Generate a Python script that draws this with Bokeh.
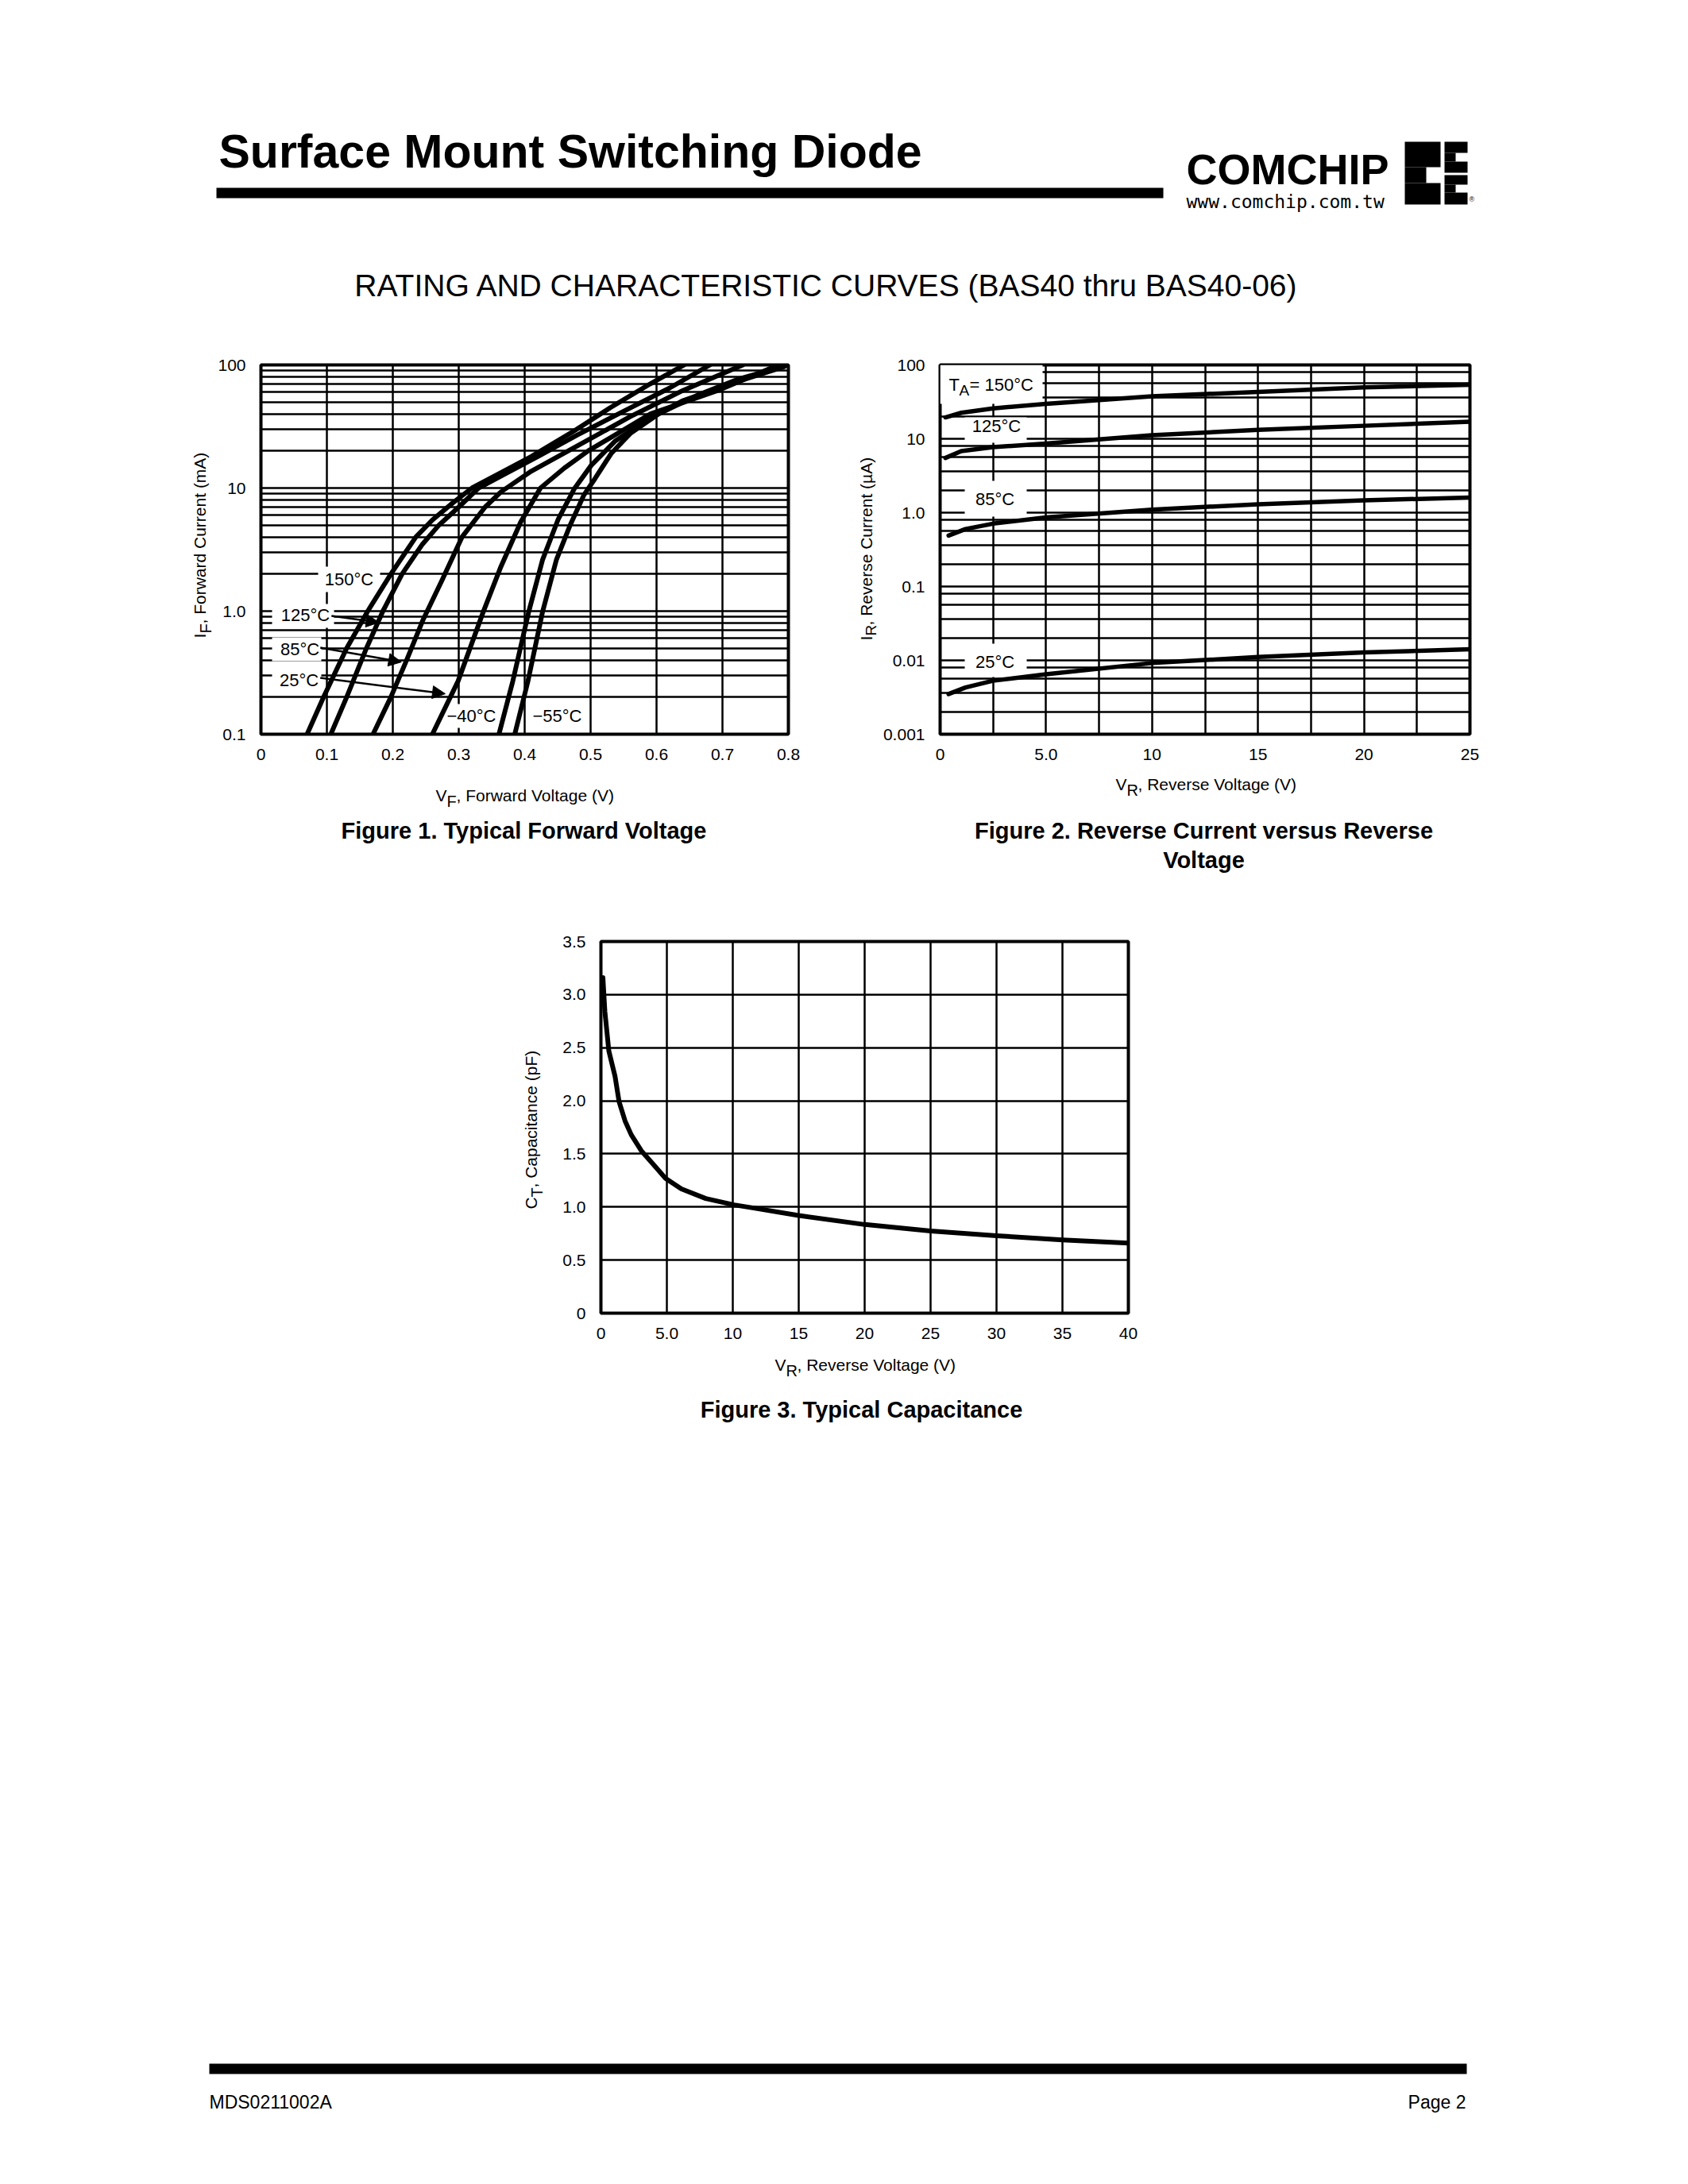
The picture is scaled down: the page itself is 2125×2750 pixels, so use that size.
import math
from bokeh.plotting import figure
from bokeh.layouts import column, row
from bokeh.models import Range1d, FixedTicker, Label, Arrow, NormalHead, Spacer
from bokeh.embed import file_html
from bokeh.resources import INLINE

SANS = "Liberation Sans"

# ---------------- data: Figure 1 (forward voltage V vs forward current mA) ----------------
vf_150 = [0.070, 0.095, 0.130, 0.162, 0.197, 0.235, 0.260, 0.290, 0.320, 0.360, 0.410, 0.470, 0.530, 0.590, 0.642]
if_150 = [0.1, 0.2, 0.5, 1.0, 2.0, 4.0, 5.5, 7.5, 10, 13, 18, 28, 45, 70, 100]
vf_125 = [0.106, 0.130, 0.160, 0.185, 0.214, 0.245, 0.270, 0.300, 0.330, 0.370, 0.420, 0.480, 0.550, 0.620, 0.681]
if_125 = [0.1, 0.2, 0.5, 1.0, 2.0, 3.5, 5.0, 7.0, 10, 13, 18, 27, 42, 65, 100]
vf_85 = [0.170, 0.197, 0.221, 0.245, 0.275, 0.305, 0.340, 0.364, 0.410, 0.480, 0.560, 0.640, 0.731]
if_85 = [0.1, 0.2, 0.4, 0.83, 1.8, 4.0, 7.0, 9.3, 13.7, 22, 38, 62, 100]
vf_25 = [0.260, 0.299, 0.337, 0.364, 0.394, 0.424, 0.460, 0.496, 0.591, 0.693, 0.785]
if_25 = [0.1, 0.27, 0.98, 2.3, 5.3, 10, 14.5, 20, 40, 62, 100]
vf_m40 = [0.361, 0.382, 0.406, 0.427, 0.451, 0.475, 0.501, 0.537, 0.585, 0.639, 0.722, 0.794]
if_m40 = [0.1, 0.27, 0.98, 2.6, 5.6, 9.8, 15.3, 24, 35.6, 51, 73, 97]
vf_m55 = [0.385, 0.405, 0.427, 0.448, 0.469, 0.490, 0.507, 0.531, 0.561, 0.603, 0.663, 0.722, 0.800]
if_m55 = [0.1, 0.27, 0.98, 2.6, 5.0, 8.8, 12, 19, 28, 40, 57, 76, 100]
f1_curve_labels = ["150°C", "125°C", "85°C", "25°C", "−40°C", "−55°C"]
# arrows from labels to curves (V, mA)
f1_arrow_x0 = [0.107, 0.090, 0.090]
f1_arrow_y0 = [0.915, 0.505, 0.287]
f1_arrow_x1 = [0.179, 0.213, 0.2795]
f1_arrow_y1 = [0.809, 0.386, 0.213]
f1_xticks = [0, 0.1, 0.2, 0.3, 0.4, 0.5, 0.6, 0.7, 0.8]
f1_xlabels = ["0", "0.1", "0.2", "0.3", "0.4", "0.5", "0.6", "0.7", "0.8"]
f1_yticks = [0.1, 1, 10, 100]
f1_ylabels = ["0.1", "1.0", "10", "100"]
f1_yminor = [m * d for d in (0.1, 1, 10) for m in range(2, 10)]

# ---------------- data: Figure 2 (reverse voltage V vs reverse current uA) ----------------
vr_150 = [0.25, 1.0, 2.5, 5.0, 10, 15, 20, 25]
ir_150 = [19.5, 22.5, 25.8, 29.7, 37.5, 43.2, 49.7, 54.0]
vr_125 = [0.25, 1.0, 2.5, 5.0, 10, 15, 20, 25]
ir_125 = [5.5, 6.8, 7.7, 8.6, 11.2, 13.2, 15.0, 17.0]
vr_85 = [0.4, 1.2, 2.5, 5.0, 10, 15, 20, 25]
ir_85 = [0.49, 0.60, 0.71, 0.86, 1.10, 1.30, 1.47, 1.60]
vr_25 = [0.4, 1.2, 2.5, 5.0, 10, 15, 20, 25]
ir_25 = [0.0035, 0.0043, 0.0053, 0.0065, 0.0092, 0.0111, 0.0128, 0.0141]
f2_curve_labels = ["125°C", "85°C", "25°C"]
f2_xticks = [0, 5, 10, 15, 20, 25]
f2_xlabels = ["0", "5.0", "10", "15", "20", "25"]
f2_xminor = [2.5, 7.5, 12.5, 17.5, 22.5]
f2_yticks = [0.001, 0.01, 0.1, 1, 10, 100]
f2_ylabels = ["0.001", "0.01", "0.1", "1.0", "10", "100"]
f2_yminor = [m * d for d in (0.001, 0.01, 0.1, 1, 10) for m in (2, 3.6, 5.6, 8)]

# ---------------- data: Figure 3 (reverse voltage V vs capacitance pF) ----------------
vr_c = [0.15, 0.3, 0.6, 1.07, 1.38, 1.83, 2.3, 3.06, 3.98, 4.9, 6.1, 7.95, 10.1, 11.6, 15, 20, 25, 30, 35, 40]
ct_c = [3.16, 2.84, 2.47, 2.23, 1.99, 1.81, 1.68, 1.53, 1.40, 1.27, 1.17, 1.08, 1.02, 0.99, 0.92, 0.835, 0.774, 0.73, 0.69, 0.66]
f3_xticks = [0, 5, 10, 15, 20, 25, 30, 35, 40]
f3_xlabels = ["0", "5.0", "10", "15", "20", "25", "30", "35", "40"]
f3_yticks = [0, 0.5, 1.0, 1.5, 2.0, 2.5, 3.0, 3.5]
f3_ylabels = ["0", "0.5", "1.0", "1.5", "2.0", "2.5", "3.0", "3.5"]


# ---------------- helpers ----------------
def page_map(fl, fr, ft, fb, xr, yr, ylog=False):
    x0, x1 = xr
    y0, y1 = yr

    def X(px):
        return x0 + (px - fl) / (fr - fl) * (x1 - x0)

    if ylog:
        a, b = math.log10(y0), math.log10(y1)

        def Y(py):
            return 10 ** (b - (py - ft) / (fb - ft) * (b - a))
    else:
        def Y(py):
            return y1 - (py - ft) / (fb - ft) * (y1 - y0)
    return X, Y


def ident(v):
    return v


def lab(p, X, Y, px, py, s, size, font=SANS, style="normal", align="left", angle=0.0):
    # (px, py) is the page position of the text's vertical middle
    p.add_layout(Label(x=X(px), y=Y(py), text=s, text_font=font,
                       text_font_size=f"{size}px", text_font_style=style,
                       text_align=align, text_baseline="middle", angle=angle,
                       text_color="black"))


def mask(p, X, Y, l, r, t, b):
    p.quad(left=[X(l)], right=[X(r)], top=[Y(t)], bottom=[Y(b)],
           fill_color="white", line_color=None)


def chart(width, height, ml, mr, mt, mb, xr, yr, ylog):
    p = figure(width=width, height=height, x_range=Range1d(*xr), y_range=Range1d(*yr),
               y_axis_type="log" if ylog else "linear",
               output_backend="svg", toolbar_location=None,
               min_border_left=ml, min_border_right=mr,
               min_border_top=mt, min_border_bottom=mb)
    p.outline_line_color = "black"
    p.outline_line_width = 4
    p.background_fill_color = "white"
    p.border_fill_color = "white"
    for ax in (p.xaxis[0], p.yaxis[0]):
        ax.axis_line_color = None
        ax.major_tick_line_color = None
        ax.minor_tick_line_color = None
        ax.major_label_text_font = SANS
        ax.major_label_text_font_size = "21px"
        ax.major_label_text_color = "black"
    p.xaxis.major_label_standoff = 12
    p.yaxis.major_label_standoff = 13
    for g in (p.xgrid[0], p.ygrid[0]):
        g.grid_line_color = "black"
        g.grid_line_width = 2.5
        g.grid_line_alpha = 1
        g.minor_grid_line_color = "black"
        g.minor_grid_line_width = 2.5
    return p


def set_ticks(p, axis, ticks, labels, minor=None):
    t = FixedTicker(ticks=ticks, minor_ticks=minor or [])
    if axis == "x":
        p.xaxis.ticker = t
        p.xgrid.ticker = t
        p.xaxis.major_label_overrides = dict(zip(ticks, labels))
    else:
        p.yaxis.ticker = t
        p.ygrid.ticker = t
        p.yaxis.major_label_overrides = dict(zip(ticks, labels))


def blank(width, height, xr, yr, ml=0, mr=0):
    p = figure(width=width, height=height, x_range=Range1d(*xr), y_range=Range1d(*yr),
               x_axis_location=None, y_axis_location=None,
               min_border_left=ml, min_border_right=mr, min_border_top=0, min_border_bottom=0,
               output_backend="svg", toolbar_location=None)
    p.outline_line_color = None
    p.grid.visible = False
    p.background_fill_color = "white"
    p.border_fill_color = "white"
    return p


# ---------------- header (page y 0..430) ----------------
hdr = blank(2125, 430, (0, 2125), (430, 0))
lab(hdr, ident, ident, 275, 190, "Surface Mount Switching Diode", 59, SANS, "bold")
hdr.quad(left=[272], right=[1464], top=[236], bottom=[249], fill_color="black", line_color=None)
lab(hdr, ident, ident, 1493, 212, "COMCHIP", 54, SANS, "bold")
lab(hdr, ident, ident, 1493, 253, "www.comchip.com.tw", 23, "DejaVu Sans Mono")
logo_l = [1768, 1768, 1768, 1818, 1818, 1818, 1818, 1818, 1818]
logo_r = [1813, 1795, 1813, 1847, 1832, 1847, 1847, 1832, 1847]
logo_t = [178, 210, 230, 178, 192, 203, 220, 232, 242]
logo_b = [210, 230, 257, 192, 203, 217, 232, 242, 257]
hdr.quad(left=logo_l, right=logo_r, top=logo_t, bottom=logo_b, fill_color="black", line_color=None)
lab(hdr, ident, ident, 1849, 250, "®", 9, SANS)
lab(hdr, ident, ident, 1040, 359, "RATING AND CHARACTERISTIC CURVES (BAS40 thru BAS40-06)", 39, SANS,
    align="center")

# ---------------- strip with Figures 1 and 2 (page y 430..1130) ----------------
# Figure 1 frame in page space: x 328..992, y 459..924
L1 = blank(270, 700, (0, 270), (1130, 430))
p1 = chart(742, 539, 58, 20, 29, 45, (0, 0.8), (0.1, 100), True)
B1 = blank(742, 161, (328, 992), (1130, 969), ml=58, mr=20)
set_ticks(p1, "x", f1_xticks, f1_xlabels)
set_ticks(p1, "y", f1_yticks, f1_ylabels, f1_yminor)
X1, Y1 = page_map(328, 992, 459, 924, (0, 0.8), (0.1, 100), True)
f1_label_pos = [(439, 729), (384, 774), (377, 817), (376, 856), (593, 901), (701, 901)]
f1_masks = [(400, 478, 713, 745), (342, 420, 760, 790), (342, 404, 802, 832),
            (342, 404, 841, 870), (558, 628, 886, 916), (666, 736, 886, 916)]
for m in f1_masks:
    mask(p1, X1, Y1, *m)
for vx, iy in [(vf_150, if_150), (vf_125, if_125), (vf_85, if_85), (vf_25, if_25),
               (vf_m40, if_m40), (vf_m55, if_m55)]:
    p1.line(vx, iy, line_color="black", line_width=6, line_join="round", line_cap="round")
for s, (cx, cy) in zip(f1_curve_labels, f1_label_pos):
    lab(p1, X1, Y1, cx, cy, s, 22, align="center")
for x0, y0, x1, y1 in zip(f1_arrow_x0, f1_arrow_y0, f1_arrow_x1, f1_arrow_y1):
    p1.add_layout(Arrow(x_start=x0, y_start=y0, x_end=x1, y_end=y1, line_width=2.5, line_color="black",
                        end=NormalHead(size=16, fill_color="black", line_color="black", line_width=1)))
# axis titles and caption
lab(B1, ident, ident, 548, 1001, "V", 21)
lab(B1, ident, ident, 562, 1008, "F", 20)
lab(B1, ident, ident, 574, 1001, ", Forward Voltage (V)", 21)
lab(B1, ident, ident, 659, 1045, "Figure 1. Typical Forward Voltage", 29, SANS, "bold", align="center")
lab(L1, ident, ident, 251, 803, "I", 21, angle=math.pi / 2)
lab(L1, ident, ident, 258, 797, "F", 20, angle=math.pi / 2)
lab(L1, ident, ident, 251, 785, ", Forward Current (mA)", 21, angle=math.pi / 2)

# Figure 2 frame in page space: x 1183..1850, y 459..924
L2 = blank(96, 700, (1012, 1108), (1130, 430))
p2 = chart(767, 539, 75, 25, 29, 45, (0, 25), (0.001, 100), True)
B2 = blank(767, 161, (1183, 1850), (1130, 969), ml=75, mr=25)
set_ticks(p2, "x", f2_xticks, f2_xlabels, f2_xminor)
set_ticks(p2, "y", f2_yticks, f2_ylabels, f2_yminor)
X2, Y2 = page_map(1183, 1850, 459, 924, (0, 25), (0.001, 100), True)
f2_masks = [(1183, 1312, 459, 508), (1214, 1292, 525, 557), (1214, 1292, 605, 650), (1214, 1292, 810, 852)]
for m in f2_masks:
    mask(p2, X2, Y2, *m)
for vx, iy in [(vr_150, ir_150), (vr_125, ir_125), (vr_85, ir_85), (vr_25, ir_25)]:
    p2.line(vx, iy, line_color="black", line_width=5.5, line_join="round", line_cap="round")
lab(p2, X2, Y2, 1194, 484, "T", 22)
lab(p2, X2, Y2, 1207, 491, "A", 19)
lab(p2, X2, Y2, 1220, 484, " = 150°C", 22)
f2_label_pos = [(1254, 536), (1252, 628), (1252, 833)]
for s, (cx, cy) in zip(f2_curve_labels, f2_label_pos):
    lab(p2, X2, Y2, cx, cy, s, 22, align="center")
lab(B2, ident, ident, 1404, 987, "V", 21)
lab(B2, ident, ident, 1418, 994, "R", 20)
lab(B2, ident, ident, 1432, 987, ", Reverse Voltage (V)", 21)
lab(B2, ident, ident, 1515, 1045, "Figure 2. Reverse Current versus Reverse", 29, SANS, "bold", align="center")
lab(B2, ident, ident, 1515, 1082, "Voltage", 29, SANS, "bold", align="center")
lab(L2, ident, ident, 1090, 806, "I", 21, angle=math.pi / 2)
lab(L2, ident, ident, 1096, 800, "R", 19, angle=math.pi / 2)
lab(L2, ident, ident, 1090, 787, " , Reverse Current (µA)", 21, angle=math.pi / 2)

stripB = row(L1, column(p1, B1), L2, column(p2, B2), Spacer(width=250, height=700))

# ---------------- strip with Figure 3 (page y 1130..1830) ----------------
# Figure 3 frame in page space: x 756..1420, y 1185..1653
L3 = blank(700, 700, (0, 700), (1830, 1130))
p3 = chart(745, 568, 56, 25, 55, 45, (0, 40), (0, 3.5), False)
B3 = blank(745, 132, (756, 1420), (1830, 1698), ml=56, mr=25)
set_ticks(p3, "x", f3_xticks, f3_xlabels)
set_ticks(p3, "y", f3_yticks, f3_ylabels)
p3.line(vr_c, ct_c, line_color="black", line_width=6, line_join="round", line_cap="round")
lab(B3, ident, ident, 975, 1718, "V", 21)
lab(B3, ident, ident, 989, 1725, "R", 20)
lab(B3, ident, ident, 1003, 1718, ", Reverse Voltage (V)", 21)
lab(B3, ident, ident, 1084, 1774, "Figure 3. Typical Capacitance", 29, SANS, "bold", align="center")
lab(L3, ident, ident, 668, 1522, "C", 21, angle=math.pi / 2)
lab(L3, ident, ident, 675, 1507, "T", 20, angle=math.pi / 2)
lab(L3, ident, ident, 668, 1495, ", Capacitance (pF)", 21, angle=math.pi / 2)

stripC = row(L3, column(p3, B3), Spacer(width=680, height=700))

# ---------------- footer (page y 1830..2750) ----------------
ftr = blank(2125, 920, (0, 2125), (2750, 1830))
ftr.quad(left=[263], right=[1846], top=[2598], bottom=[2611], fill_color="black", line_color=None)
lab(ftr, ident, ident, 263, 2646, "MDS0211002A", 23, SANS)
lab(ftr, ident, ident, 1845, 2646, "Page 2", 23, SANS, align="right")

layout = column(hdr, stripB, stripC, ftr)
open("out.html", "w").write(file_html(layout, INLINE))
